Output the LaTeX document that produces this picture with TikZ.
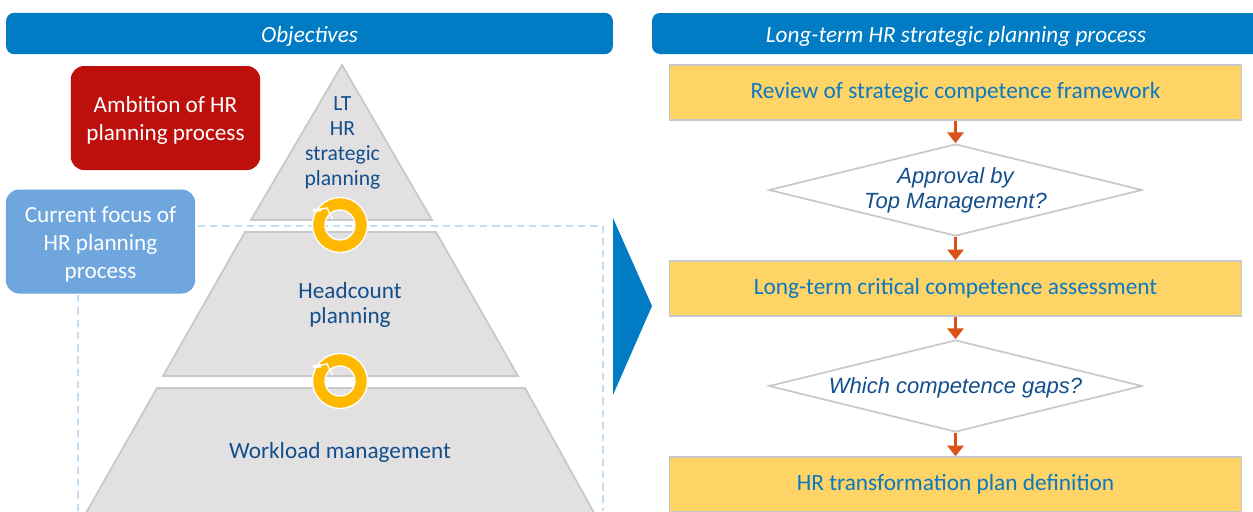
\documentclass[tikz,border=0pt]{standalone}
\usepackage{fontspec}
\setmainfont{Carlito}
\newfontfamily\diamondfont{Liberation Sans}
\usepackage{xcolor}
\usetikzlibrary{shapes.geometric,arrows.meta}
\definecolor{headblue}{HTML}{007BC4}
\definecolor{ambitionred}{HTML}{BD0F0C}
\definecolor{focusblue}{HTML}{6FA6DE}
\definecolor{stepyellow}{HTML}{FFD466}
\definecolor{stepedge}{HTML}{C8C8C8}
\definecolor{pyrgray}{HTML}{E2E0E1}
\definecolor{pyrtext}{HTML}{124F8C}
\definecolor{steptext}{HTML}{0A78C2}
\definecolor{ringyellow}{HTML}{FFB900}
\definecolor{arroworange}{HTML}{D95319}
\definecolor{dashblue}{HTML}{C5DDF2}
\tikzset{
    headbar/.style={fill=headblue, rounded corners=6pt, text=white, font=\fontsize{17.4}{20}\selectfont\itshape, inner sep=0pt},
    labelbox/.style={rounded corners=10pt, minimum width=142pt, minimum height=78pt, inner sep=0pt},
    labeltext/.style={text=white, align=center, inner sep=0pt, font=\fontsize{17.4}{21}\selectfont},
    stepbox/.style={draw=stepedge, line width=1.3pt, fill=stepyellow, text=steptext, minimum width=429pt, minimum height=41pt, inner sep=0pt, text height=13pt, text depth=3.5pt, font=\fontsize{17.5}{20}\selectfont},
    choicebox/.style={diamond, draw=stepedge, line width=1.3pt, fill=white, text=pyrtext, aspect=4, minimum width=280pt, minimum height=69pt, inner sep=0pt, align=center, font=\diamondfont\fontsize{16.5}{19}\selectfont\itshape},
    flowarrow/.style={draw=arroworange, line width=2.2pt, -{Triangle[length=8pt,width=12pt]}},
    pyrlevel/.style={draw=stepedge, line width=1.3pt, fill=pyrgray},
    pyrlabel/.style={text=pyrtext, align=center, font=\fontsize{17.4}{18.7}\selectfont},
    ringshape/.style={draw=white, line width=1pt, fill=ringyellow, even odd rule}
}
\newcommand{\planring}[2]{%
    \draw[ringshape] (#1,#2) circle (27.5) (#1,#2) circle (15);
    % white line of the arrow tip
    \draw[white, line width=1.1pt] (#1-27,#2-14.5) -- (#1-13,#2-17) -- (#1-7.5,#2-6);
    \fill[white] (#1-27.5,#2-16) -- (#1-19,#2-16.5) -- (#1-19,#2-13.5) -- (#1-27,#2-13) -- cycle;
}
\begin{document}
\begin{tikzpicture}[x=0.75pt,y=-0.75pt]
    \useasboundingbox (0,0) rectangle (1253,511);
    \clip (0,0) rectangle (1253,511);

    % Dashed frame of the current focus
    \draw[dash pattern=on 5.5pt off 3.7pt, draw=dashblue, line width=1.1pt] (78,511) -- (78,226) -- (603,226) -- (603,511);

    % Draw the three levels of the pyramid
    \draw[pyrlevel] (342,65) -- (432,220) -- (251,220) -- cycle;
    \draw[pyrlevel] (245,232) -- (436,232) -- (518,376) -- (163,376) -- cycle;
    \draw[pyrlevel] (157,388) -- (525,388) -- (598,520) -- (82,520) -- cycle;

    % Level labels
    \node[pyrlabel, font=\fontsize{16.2}{18.7}\selectfont] (ltplan) at (342.5,143) {LT\\HR\\strategic\\planning};
    \node[pyrlabel] (headcount) at (350,305) {Headcount\\planning};
    \node[pyrlabel] (workload) at (340,452) {Workload management};

    % Rings between the levels
    \planring{340}{225}
    \planring{340}{381}

    % Side labels
    \node[labelbox, fill=ambitionred] (ambition) at (165.5,118) {};
    \node[labeltext] (ambitiontext) at (165.5,120) {Ambition of HR\\planning process};
    \node[labelbox, fill=focusblue] (focus) at (100.5,241.5) {};
    \node[labeltext] (focustext) at (100.5,244.5) {Current focus of\\HR planning\\process};

    % Header bars
    \node[headbar, minimum width=455pt, minimum height=31pt, text height=16pt, text depth=3pt] (objectives) at (309.5,33.5) {Objectives};
    \fill[headblue, rounded corners=6pt] (652,13) rectangle (1280,54);
    \node[text=white, font=\fontsize{17.4}{20}\selectfont\itshape] (longterm) at (956,36) {Long-term HR strategic planning process};

    % Big arrow between both sides
    \fill[headblue] (613,218) -- (652,306) -- (613,395) -- cycle;

    % Process steps
    \node[stepbox] (review) at (955.5,92.5) {Review of strategic competence framework};
    \node[choicebox] (approval) at (955.5,190) {Approval by\\Top Management?};
    \node[stepbox] (assess) at (955.5,288.5) {Long-term critical competence assessment};
    \node[choicebox, text height=14.2pt, text depth=3.6pt] (gaps) at (955.5,386) {Which competence gaps?};
    \node[stepbox] (define) at (955.5,484.5) {HR transformation plan definition};

    % Connect the steps
    \draw[flowarrow] (review) -- (approval);
    \draw[flowarrow] (approval) -- (assess);
    \draw[flowarrow] (assess) -- (gaps);
    \draw[flowarrow] (gaps) -- (define);
\end{tikzpicture}
\end{document}
